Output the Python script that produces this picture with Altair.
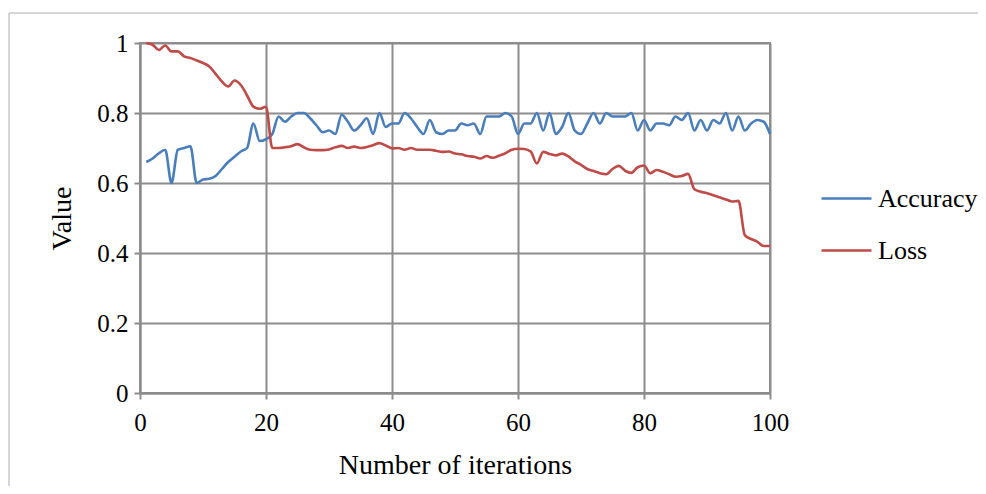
import altair as alt
import pandas as pd

iterations = list(range(1, 101))

accuracy = [
    0.66, 0.67, 0.685, 0.695, 0.60, 0.695, 0.70, 0.705, 0.60, 0.61,
    0.612, 0.62, 0.64, 0.66, 0.675, 0.69, 0.70, 0.77, 0.72, 0.725,
    0.74, 0.79, 0.775, 0.79, 0.80, 0.80, 0.785, 0.765, 0.745, 0.75,
    0.74, 0.795, 0.775, 0.75, 0.765, 0.785, 0.74, 0.80, 0.76, 0.77,
    0.77, 0.80, 0.785, 0.76, 0.74, 0.78, 0.745, 0.74, 0.75, 0.75,
    0.77, 0.765, 0.77, 0.74, 0.79, 0.79, 0.79, 0.80, 0.79, 0.74,
    0.77, 0.77, 0.80, 0.75, 0.80, 0.74, 0.76, 0.80, 0.75, 0.74,
    0.77, 0.80, 0.77, 0.80, 0.79, 0.79, 0.79, 0.80, 0.75, 0.78,
    0.75, 0.77, 0.77, 0.765, 0.79, 0.78, 0.80, 0.75, 0.78, 0.75,
    0.78, 0.77, 0.80, 0.75, 0.79, 0.75, 0.77, 0.78, 0.775, 0.74,
]

loss = [
    1.0, 0.995, 0.98, 0.993, 0.976, 0.976, 0.962, 0.957, 0.95, 0.943,
    0.933, 0.912, 0.89, 0.876, 0.893, 0.88, 0.85, 0.818, 0.812, 0.818,
    0.70, 0.70, 0.702, 0.705, 0.711, 0.702, 0.695, 0.694, 0.694, 0.696,
    0.702, 0.706, 0.70, 0.704, 0.70, 0.703, 0.708, 0.714, 0.707, 0.699,
    0.70, 0.695, 0.70, 0.695, 0.695, 0.695, 0.692, 0.689, 0.69, 0.684,
    0.682, 0.677, 0.675, 0.67, 0.677, 0.672, 0.678, 0.685, 0.695, 0.698,
    0.697, 0.69, 0.656, 0.689, 0.683, 0.679, 0.684, 0.676, 0.662, 0.652,
    0.64, 0.634, 0.628, 0.625, 0.64, 0.649, 0.635, 0.629, 0.645, 0.65,
    0.628, 0.637, 0.632, 0.625, 0.618, 0.62, 0.626, 0.582, 0.575, 0.571,
    0.565, 0.559, 0.553, 0.547, 0.549, 0.451, 0.44, 0.432, 0.42, 0.42,
]

series_names = ["Accuracy", "Loss"]
series_colors = ["#4A7EBB", "#BE4B48"]

x_ticks = [0, 20, 40, 60, 80, 100]
y_ticks = [0, 0.2, 0.4, 0.6, 0.8, 1.0]

df = pd.DataFrame({
    "iteration": iterations * 2,
    "value": accuracy + loss,
    "series": [series_names[0]] * len(iterations) + [series_names[1]] * len(iterations),
})

FONT = "Liberation Serif"
GRID = "#8c8c8c"

lines = alt.Chart(df).mark_line(strokeWidth=2.6, interpolate="monotone").encode(
    x=alt.X("iteration:Q",
            scale=alt.Scale(domain=[0, 100], nice=False),
            axis=alt.Axis(values=x_ticks, title="Number of iterations",
                          titleX=315, titleY=72, titleBaseline="middle",
                          titleAlign="center", labelPadding=11,
                          labelFlush=False)),
    y=alt.Y("value:Q",
            scale=alt.Scale(domain=[0, 1], nice=False),
            axis=alt.Axis(values=y_ticks, format="~g", title="Value",
                          titleX=-78, titleY=175, titleAngle=-90,
                          titleBaseline="middle", titleAlign="center",
                          labelPadding=6, labelFlush=False)),
    color=alt.Color("series:N",
                    scale=alt.Scale(domain=series_names, range=series_colors),
                    legend=alt.Legend(title=None, orient="none",
                                      legendX=680, legendY=129,
                                      symbolType="stroke", symbolSize=2500,
                                      symbolStrokeWidth=2.5, labelOffset=5,
                                      rowPadding=12, labelFont=FONT,
                                      labelFontSize=26, labelColor="black")),
)

border_left = alt.Chart(pd.DataFrame({"k": [0]})).mark_rule(
    color="#c8c8c8", strokeWidth=1.5
).encode(
    x=alt.value(-131), x2=alt.value(-131),
    y=alt.value(-30), y2=alt.value(443),
)

border_top = alt.Chart(pd.DataFrame({"k": [0]})).mark_rule(
    color="#c8c8c8", strokeWidth=1.5
).encode(
    x=alt.value(-131), x2=alt.value(846),
    y=alt.value(-30), y2=alt.value(-30),
)

chart = alt.layer(border_left, border_top, lines).properties(
    width=630, height=350,
    autosize=alt.AutoSizeParams(type="none"),
    padding={"left": 132, "top": 35, "right": 208, "bottom": 93},
).configure_view(stroke=GRID, strokeWidth=2).configure_axis(
    labelFont=FONT, titleFont=FONT, labelFontSize=25, titleFontSize=28,
    titleFontWeight="normal", labelColor="black", titleColor="black",
    gridColor=GRID, gridWidth=2, domainColor=GRID, domainWidth=2,
    tickColor=GRID, tickWidth=2, tickSize=6,
)

chart.save("out.html", embed_options={"renderer": "svg", "actions": False})
